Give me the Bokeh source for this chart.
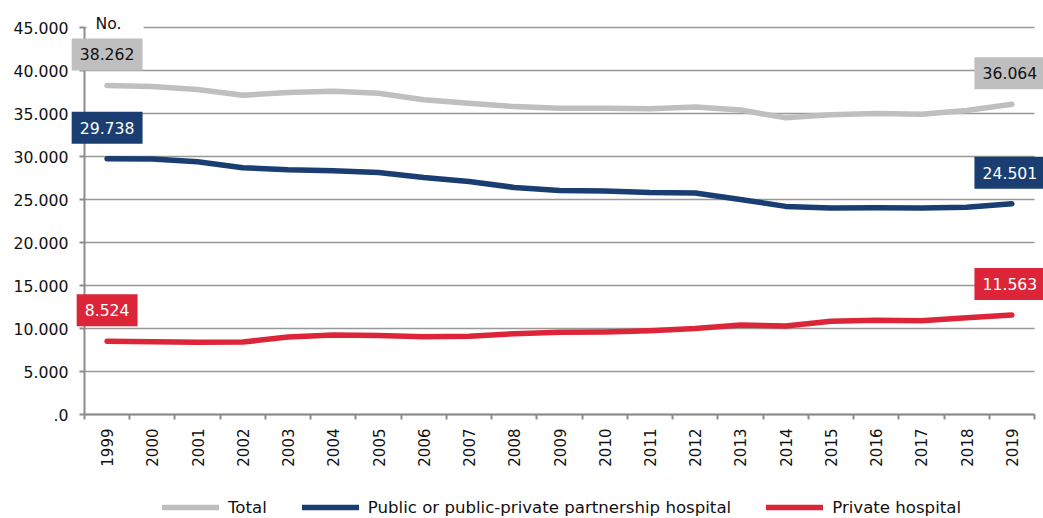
from bokeh.plotting import figure
from bokeh.models import Range1d, FixedTicker, Label, Legend, LegendItem
from bokeh.embed import file_html
from bokeh.resources import INLINE
import math

years = list(range(1999, 2020))
total = [38262, 38150, 37800, 37120, 37450, 37600, 37350, 36600, 36200, 35800, 35600,
         35600, 35550, 35750, 35400, 34500, 34850, 35000, 34900, 35350, 36064]
public = [29738, 29700, 29400, 28700, 28450, 28350, 28150, 27550, 27100, 26400, 26050,
          26000, 25800, 25750, 25000, 24200, 24000, 24050, 24000, 24100, 24501]
private = [8524, 8450, 8400, 8420, 9000, 9250, 9200, 9050, 9100, 9400, 9550,
           9600, 9750, 10000, 10400, 10300, 10850, 10950, 10900, 11250, 11563]
series_names = ["Total", "Public or public-private partnership hospital", "Private hospital"]
y_ticks = [0, 5000, 10000, 15000, 20000, 25000, 30000, 35000, 40000, 45000]
y_tick_labels = [".0", "5.000", "10.000", "15.000", "20.000", "25.000", "30.000", "35.000", "40.000", "45.000"]
unit_label = "No."

FONT = "DejaVu Sans"
GRAY = "#bfbfbf"
NAVY = "#1a3e72"
RED = "#dc2539"
AXIS = "#8c8c8c"
TXT = "15.7px"

# layout in pixels: plot area spans x 84..1034, y 27..414 of a 1043x518 canvas
W, H = 1043, 518
L, R, T, B = 84, 1034, 27, 414
x0, x1 = years[0] - 0.5, years[-1] + 0.5
ypx = (B - T) / (y_ticks[-1] - y_ticks[0])
xpx = (R - L) / (x1 - x0)
x_range = Range1d(x0 - L / xpx, x1 + (W - R) / xpx)
y_range = Range1d(y_ticks[0] - (H - B) / ypx, y_ticks[-1] + T / ypx)

p = figure(width=W, height=H, output_backend="svg", toolbar_location=None,
           x_range=x_range, y_range=y_range,
           min_border_left=0, min_border_right=0, min_border_top=0, min_border_bottom=0)
p.outline_line_color = None
p.background_fill_color = "white"
p.border_fill_color = "white"

# x axis: labels at years, ticks between categories
xa = p.xaxis[0]
xa.fixed_location = y_ticks[0]
xa.bounds = (x0, x1)
xa.ticker = FixedTicker(ticks=years, minor_ticks=[y - 0.5 for y in years] + [x1])
xa.major_label_overrides = {y: str(y) for y in years}
xa.major_tick_line_color = None
xa.minor_tick_line_color = AXIS
xa.minor_tick_line_width = 2
xa.minor_tick_out = 5
xa.minor_tick_in = 0
xa.axis_line_color = AXIS
xa.axis_line_width = 2
xa.major_label_orientation = math.pi / 2
xa.major_label_standoff = 8
xa.major_label_text_font = FONT
xa.major_label_text_font_size = "15px"
xa.major_label_text_color = "#111111"

ya = p.yaxis[0]
ya.fixed_location = x0
ya.bounds = (y_ticks[0], y_ticks[-1])
ya.ticker = FixedTicker(ticks=y_ticks, minor_ticks=[])
ya.major_label_overrides = dict(zip(y_ticks, y_tick_labels))
ya.major_tick_line_color = AXIS
ya.major_tick_line_width = 2
ya.major_tick_out = 5
ya.major_tick_in = 0
ya.minor_tick_line_color = None
ya.axis_line_color = AXIS
ya.axis_line_width = 2
ya.major_label_standoff = 11
ya.major_label_text_font = FONT
ya.major_label_text_font_size = TXT
ya.major_label_text_color = "#111111"

p.xgrid.grid_line_color = None
p.ygrid.ticker = FixedTicker(ticks=y_ticks)
p.ygrid.bounds = (y_ticks[0], y_ticks[-1])
p.ygrid.cross_bounds = (x0, x1)
p.ygrid.grid_line_color = "#989898"
p.ygrid.grid_line_width = 1.5

colors = [GRAY, NAVY, RED]
text_colors = ["#111111", "white", "white"]
renderers = []
for vals, c in zip([total, public, private], colors):
    r = p.line(years, vals, line_width=5.5, line_color=c, line_cap="round", line_join="round")
    renderers.append(r)

def fmt(v):
    return f"{v:,}".replace(",", ".")

for vals, c, tc in zip([total, public, private], colors, text_colors):
    for i in (0, len(years) - 1):
        p.add_layout(Label(x=years[i], y=vals[i], text=fmt(vals[i]), text_align="center",
                           text_baseline="bottom", y_offset=15, x_offset=(0 if i == 0 else -2),
                           background_fill_color=c, text_color=tc,
                           padding=dict(left=8, right=8, top=10, bottom=10),
                           text_font=FONT, text_font_size=TXT))

p.add_layout(Label(x=x0, y=y_ticks[-1], text=unit_label, text_align="left",
                   text_baseline="middle", x_offset=2, y_offset=4,
                   background_fill_color="white",
                   padding=dict(left=9, right=22, top=4, bottom=4),
                   text_font=FONT, text_font_size=TXT, text_color="#111111"))

legend = Legend(items=[LegendItem(label=n, renderers=[r]) for n, r in zip(series_names, renderers)],
                orientation="horizontal", location=(162, 1),
                glyph_width=57, glyph_height=20, label_standoff=9, spacing=35,
                padding=0, margin=0, border_line_color=None, background_fill_alpha=0,
                label_text_font=FONT, label_text_font_size="16.6px", label_text_color="#111111")
p.add_layout(legend, "center")

open("out.html", "w").write(file_html(p, INLINE))
